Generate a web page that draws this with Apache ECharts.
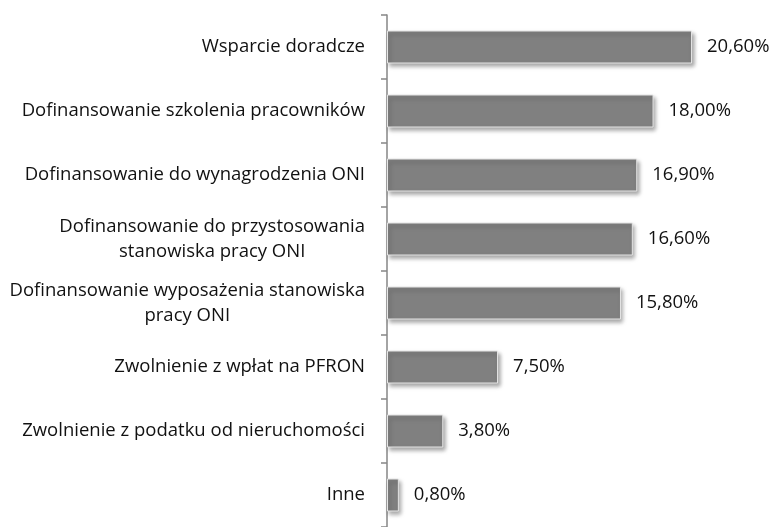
<!DOCTYPE html>
<html>
<head>
<meta charset="utf-8">
<script src="https://cdn.jsdelivr.net/npm/echarts@6/dist/echarts.min.js"></script>
<style>html,body{margin:0;padding:0;background:#fff}#c{width:774px;height:527px}</style>
</head>
<body>
<div id="c"></div>
<script>
const categories = [
  "Wsparcie doradcze",
  "Dofinansowanie szkolenia pracowników",
  "Dofinansowanie do wynagrodzenia ONI",
  "Dofinansowanie do przystosowania\nstanowiska pracy ONI",
  "Dofinansowanie wyposażenia stanowiska\npracy ONI",
  "Zwolnienie z wpłat na PFRON",
  "Zwolnienie z podatku od nieruchomości",
  "Inne"
];
const values = [20.6, 18.0, 16.9, 16.6, 15.8, 7.5, 3.8, 0.8];

const chart = echarts.init(document.getElementById('c'));
const font = '"Open Sans", sans-serif';
const fs = 18.5;
chart.setOption({
  animation: false,
  grid: { left: 387, top: 15, width: 385, height: 517 },
  xAxis: {
    type: 'value', min: 0, max: 26,
    show: false
  },
  yAxis: {
    type: 'category', data: categories, inverse: true,
    axisLine: { show: true, lineStyle: { color: '#868686', width: 1.5 } },
    axisTick: { show: true, inside: false, length: 6, lineStyle: { color: '#868686', width: 1.5 } },
    axisLabel: {
      margin: 22,
      fontFamily: font, fontSize: fs, color: '#111',
      formatter: v => v.split('\n').map(l => '{c|' + l + '}').join('\n'),
      rich: { c: { align: 'center', fontFamily: font, fontSize: fs, color: '#111', lineHeight: 25 } }
    }
  },
  series: [{
    type: 'bar',
    data: values,
    barWidth: 33,
    itemStyle: {
      color: '#808080',
      borderColor: '#e6e6e6', borderWidth: 1,
      shadowColor: 'rgba(0,0,0,0.35)', shadowBlur: 4, shadowOffsetX: 2, shadowOffsetY: 3
    },
    label: {
      show: true, position: 'right', distance: 15,
      fontFamily: font, fontSize: fs, color: '#111',
      formatter: p => p.value.toFixed(2).replace('.', ',') + '%'
    }
  }]
});
</script>
</body>
</html>
